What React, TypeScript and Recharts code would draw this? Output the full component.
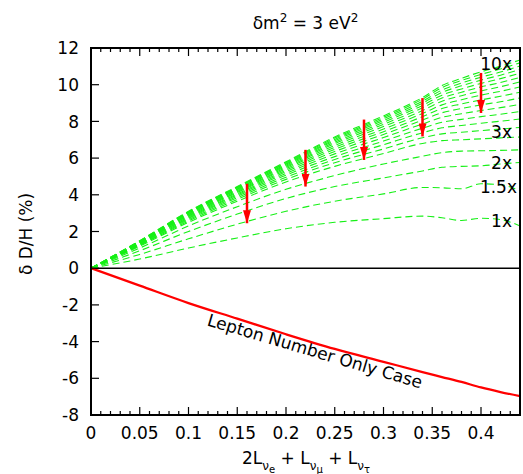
import {
  LineChart,
  Line,
  XAxis,
  YAxis,
  ReferenceLine,
} from "recharts";

const FONT = "DejaVu Sans";

// chart box
const W = 523;
const H = 474;
const PLOT_LEFT = 91;
const PLOT_TOP = 48;
const PLOT_RIGHT_PAD = 3;
const X_AXIS_H = 59;
// top/right axes keep recharts' tick offset (size + margin), ticks are drawn back inside
const OUTER_TICK_OFFSET = 8;

const xs = [0, 0.05, 0.1, 0.15, 0.2, 0.25, 0.3, 0.34, 0.36, 0.38, 0.4, 0.42, 0.44];

// lepton-number-only case (red)
const leptonOnly = [0, -0.95, -1.9, -2.75, -3.6, -4.4, -5.1, -5.66, -5.93, -6.2, -6.5, -6.75, -6.97];

// green dashed curves, 1x ... 10x
const g1 = [0, 0.5, 1.1, 1.65, 2.15, 2.5, 2.7, 2.84, 2.75, 2.6, 2.72, 2.65, 2.3];
const g15 = [0, 0.75, 1.6, 2.4, 3.1, 3.65, 4.05, 4.4, 4.38, 4.33, 4.6, 4.55, 4.22];
const g2 = [0, 0.95, 2.0, 2.95, 3.8, 4.45, 4.92, 5.3, 5.5, 5.55, 5.58, 5.68, 5.76];
const g25 = [0, 1.1, 2.3, 3.35, 4.3, 5.05, 5.68, 6.1, 6.3, 6.38, 6.4, 6.42, 6.45];
const g3 = [0, 1.2, 2.5, 3.65, 4.7, 5.55, 6.25, 6.8, 6.95, 7.0, 7.05, 7.1, 7.15];
const g35 = [0, 1.24, 2.57, 3.75, 4.84, 5.75, 6.5, 7.11, 7.32, 7.41, 7.5, 7.58, 7.67];
const g4 = [0, 1.27, 2.64, 3.84, 4.96, 5.92, 6.73, 7.38, 7.65, 7.78, 7.9, 8.01, 8.13];
const g45 = [0, 1.3, 2.7, 3.92, 5.07, 6.08, 6.93, 7.63, 7.95, 8.11, 8.26, 8.39, 8.54];
const g5 = [0, 1.33, 2.75, 3.99, 5.17, 6.23, 7.12, 7.86, 8.22, 8.42, 8.59, 8.75, 8.93];
const g55 = [0, 1.35, 2.8, 4.05, 5.26, 6.36, 7.29, 8.07, 8.47, 8.7, 8.9, 9.07, 9.28];
const g6 = [0, 1.37, 2.85, 4.12, 5.34, 6.48, 7.44, 8.26, 8.7, 8.95, 9.17, 9.37, 9.59];
const g65 = [0, 1.4, 2.89, 4.17, 5.42, 6.59, 7.58, 8.43, 8.9, 9.18, 9.43, 9.64, 9.88];
const g7 = [0, 1.41, 2.93, 4.22, 5.49, 6.69, 7.72, 8.59, 9.1, 9.4, 9.66, 9.89, 10.15];
const g75 = [0, 1.43, 2.96, 4.27, 5.55, 6.79, 7.84, 8.74, 9.27, 9.59, 9.88, 10.12, 10.4];
const g8 = [0, 1.45, 3.0, 4.31, 5.61, 6.87, 7.95, 8.87, 9.43, 9.77, 10.07, 10.33, 10.63];
const g85 = [0, 1.46, 3.03, 4.35, 5.66, 6.95, 8.05, 8.99, 9.58, 9.94, 10.25, 10.52, 10.83];
const g9 = [0, 1.48, 3.05, 4.39, 5.71, 7.02, 8.14, 9.1, 9.71, 10.09, 10.41, 10.69, 11.02];
const g95 = [0, 1.49, 3.08, 4.42, 5.76, 7.09, 8.22, 9.21, 9.84, 10.23, 10.56, 10.86, 11.19];
const g10 = [0, 1.5, 3.1, 4.45, 5.8, 7.15, 8.3, 9.3, 9.95, 10.35, 10.7, 11.0, 11.35];

const greenSeries = [
  { key: "g1", values: g1 },
  { key: "g15", values: g15 },
  { key: "g2", values: g2 },
  { key: "g25", values: g25 },
  { key: "g3", values: g3 },
  { key: "g35", values: g35 },
  { key: "g4", values: g4 },
  { key: "g45", values: g45 },
  { key: "g5", values: g5 },
  { key: "g55", values: g55 },
  { key: "g6", values: g6 },
  { key: "g65", values: g65 },
  { key: "g7", values: g7 },
  { key: "g75", values: g75 },
  { key: "g8", values: g8 },
  { key: "g85", values: g85 },
  { key: "g9", values: g9 },
  { key: "g95", values: g95 },
  { key: "g10", values: g10 },
];

// curve labels at the right end
const curveLabels = [
  { text: "10x", value: 11.15, end: 512 },
  { text: "3x", value: 7.45, end: 512 },
  { text: "2x", value: 5.76, end: 512 },
  { text: "1.5x", value: 4.45, end: 517 },
  { text: "1x", value: 2.57, end: 512 },
];

// red arrows: x, start, tip
const arrows = [
  { x: 0.16, from: 4.6, to: 2.45 },
  { x: 0.22, from: 6.45, to: 4.45 },
  { x: 0.28, from: 8.1, to: 5.9 },
  { x: 0.34, from: 9.27, to: 7.18 },
  { x: 0.4, from: 10.64, to: 8.46 },
];

const xMajorTicks = [0, 0.05, 0.1, 0.15, 0.2, 0.25, 0.3, 0.35, 0.4];
const xMinorTicks = [
  0, 0.01, 0.02, 0.03, 0.04, 0.05, 0.06, 0.07, 0.08, 0.09, 0.1, 0.11, 0.12, 0.13, 0.14,
  0.15, 0.16, 0.17, 0.18, 0.19, 0.2, 0.21, 0.22, 0.23, 0.24, 0.25, 0.26, 0.27, 0.28,
  0.29, 0.3, 0.31, 0.32, 0.33, 0.34, 0.35, 0.36, 0.37, 0.38, 0.39, 0.4, 0.41, 0.42, 0.43,
];
const yTicks = [-8, -6, -4, -2, 0, 2, 4, 6, 8, 10, 12];

const data = xs.map((x, i) => {
  const row: Record<string, number> = { x, lepton: leptonOnly[i] };
  greenSeries.forEach((s) => {
    row[s.key] = s.values[i];
  });
  return row;
});

const isMajor = (v: number) => xMajorTicks.some((t) => Math.abs(t - v) < 1e-6);

const BottomTick = (props: any) => {
  const { x, y, payload } = props;
  const major = isMajor(payload.value);
  return (
    <g>
      <line x1={x} x2={x} y1={y} y2={y - (major ? 8 : 4)} stroke="#000" strokeWidth={1.2} />
      {major && (
        <text x={x} y={y + 24} textAnchor="middle" fontFamily={FONT} fontSize={17} fill="#000">
          {String(payload.value)}
        </text>
      )}
    </g>
  );
};

const TopTick = (props: any) => {
  const { x, y, payload } = props;
  const major = isMajor(payload.value);
  const y0 = y + OUTER_TICK_OFFSET;
  return <line x1={x} x2={x} y1={y0} y2={y0 + (major ? 8 : 4)} stroke="#000" strokeWidth={1.2} />;
};

const LeftTick = (props: any) => {
  const { x, y, payload } = props;
  return (
    <g>
      <line x1={x} x2={x + 8} y1={y} y2={y} stroke="#000" strokeWidth={1.2} />
      <text x={x - 12} y={y} dy="0.36em" textAnchor="end" fontFamily={FONT} fontSize={17} fill="#000">
        {payload.value}
      </text>
    </g>
  );
};

const RightTick = (props: any) => {
  const { x, y } = props;
  const x0 = x - OUTER_TICK_OFFSET;
  return <line x1={x0 - 8} x2={x0} y1={y} y2={y} stroke="#000" strokeWidth={1.2} />;
};

const ArrowShape = (props: any) => {
  const { x1, y1, x2, y2 } = props;
  return (
    <line x1={x1} y1={y1} x2={x2} y2={y2} stroke="#ff0000" strokeWidth={2.5} markerEnd="url(#redArrow)" />
  );
};

const CurveLabel = (props: any) => {
  const { viewBox, text, end } = props;
  if (!viewBox) return null;
  return (
    <text x={end} y={viewBox.y} dy="0.36em" textAnchor="end" fontFamily={FONT} fontSize={17} fill="#000">
      {text}
    </text>
  );
};

export default function App() {
  return (
    <div style={{ position: "absolute", left: 0, top: 0, background: "#fff" }}>
      <LineChart width={W} height={H} data={data} margin={{ top: PLOT_TOP - 10, right: 0, bottom: 0, left: 0 }}>
        <defs>
          <marker
            id="redArrow"
            viewBox="0 0 10 10"
            refX={10}
            refY={5}
            markerWidth={13}
            markerHeight={8}
            markerUnits="userSpaceOnUse"
            preserveAspectRatio="none"
            orient="auto"
          >
            <path d="M0,0 L10,5 L0,10 z" fill="#ff0000" />
          </marker>
        </defs>
        <XAxis
          dataKey="x"
          type="number"
          domain={[0, 0.44]}
          ticks={xMinorTicks}
          interval={0}
          height={X_AXIS_H}
          tickSize={0}
          tickMargin={0}
          tickLine={false}
          tick={<BottomTick />}
          axisLine={{ stroke: "#000", strokeWidth: 2 }}
        />
        <XAxis
          xAxisId="top"
          dataKey="x"
          type="number"
          orientation="top"
          domain={[0, 0.44]}
          ticks={xMinorTicks}
          interval={0}
          height={10}
          tickSize={6}
          tickMargin={2}
          tickLine={false}
          tick={<TopTick />}
          axisLine={{ stroke: "#000", strokeWidth: 2 }}
        />
        <YAxis
          type="number"
          domain={[-8, 12]}
          ticks={yTicks}
          interval={0}
          width={PLOT_LEFT}
          tickSize={0}
          tickMargin={0}
          tickLine={false}
          tick={<LeftTick />}
          axisLine={{ stroke: "#000", strokeWidth: 2 }}
        />
        <YAxis
          yAxisId="right"
          orientation="right"
          type="number"
          domain={[-8, 12]}
          ticks={yTicks}
          interval={0}
          width={PLOT_RIGHT_PAD}
          tickSize={6}
          tickMargin={2}
          tickLine={false}
          tick={<RightTick />}
          axisLine={{ stroke: "#000", strokeWidth: 2 }}
        />
        <ReferenceLine y={0} stroke="#000" strokeWidth={1.5} />
        {greenSeries.map((s) => (
          <Line
            key={s.key}
            dataKey={s.key}
            type="monotone"
            stroke="#16f016"
            strokeWidth={1.1}
            strokeDasharray="7 4"
            dot={false}
            activeDot={false}
            isAnimationActive={false}
          />
        ))}
        {arrows.map((a) => (
          <ReferenceLine
            key={a.x}
            segment={[
              { x: a.x, y: a.from },
              { x: a.x, y: a.to },
            ]}
            ifOverflow="visible"
            shape={ArrowShape}
          />
        ))}
        <Line
          dataKey="lepton"
          type="monotone"
          stroke="#ff0000"
          strokeWidth={2.3}
          dot={false}
          activeDot={false}
          isAnimationActive={false}
        />
        {curveLabels.map((l) => (
          <ReferenceLine
            key={l.text}
            y={l.value}
            stroke="none"
            label={<CurveLabel text={l.text} end={l.end} />}
          />
        ))}
        {/* plot frame */}
        <rect
          x={PLOT_LEFT}
          y={PLOT_TOP}
          width={W - PLOT_LEFT - PLOT_RIGHT_PAD}
          height={H - PLOT_TOP - X_AXIS_H}
          fill="none"
          stroke="#000"
          strokeWidth={2}
        />
        <text x={305.5} y={29} textAnchor="middle" fontFamily={FONT} fontSize={17} fill="#000">
          δm
          <tspan dy={-7} fontSize={12}>2</tspan>
          <tspan dy={7}> = 3 eV</tspan>
          <tspan dy={-7} fontSize={12}>2</tspan>
        </text>
        <text
          x={26}
          y={234}
          textAnchor="middle"
          dy="0.36em"
          transform="rotate(-90 26 234)"
          fontFamily={FONT}
          fontSize={17}
          fill="#000"
        >
          δ D/H (%)
        </text>
        <text x={306} y={464} textAnchor="middle" fontFamily={FONT} fontSize={17} fill="#000">
          2L
          <tspan dy={6} fontSize={12}>ν</tspan>
          <tspan dy={3} fontSize={10}>e</tspan>
          <tspan dy={-9}> + L</tspan>
          <tspan dy={6} fontSize={12}>ν</tspan>
          <tspan dy={3} fontSize={10}>μ</tspan>
          <tspan dy={-9}> + L</tspan>
          <tspan dy={6} fontSize={12}>ν</tspan>
          <tspan dy={3} fontSize={10}>τ</tspan>
        </text>
        <text
          x={315}
          y={351}
          dy="0.36em"
          textAnchor="middle"
          transform="rotate(16.5 315 351)"
          fontFamily={FONT}
          fontSize={17}
          fill="#000"
        >
          Lepton Number Only Case
        </text>
      </LineChart>
    </div>
  );
}
